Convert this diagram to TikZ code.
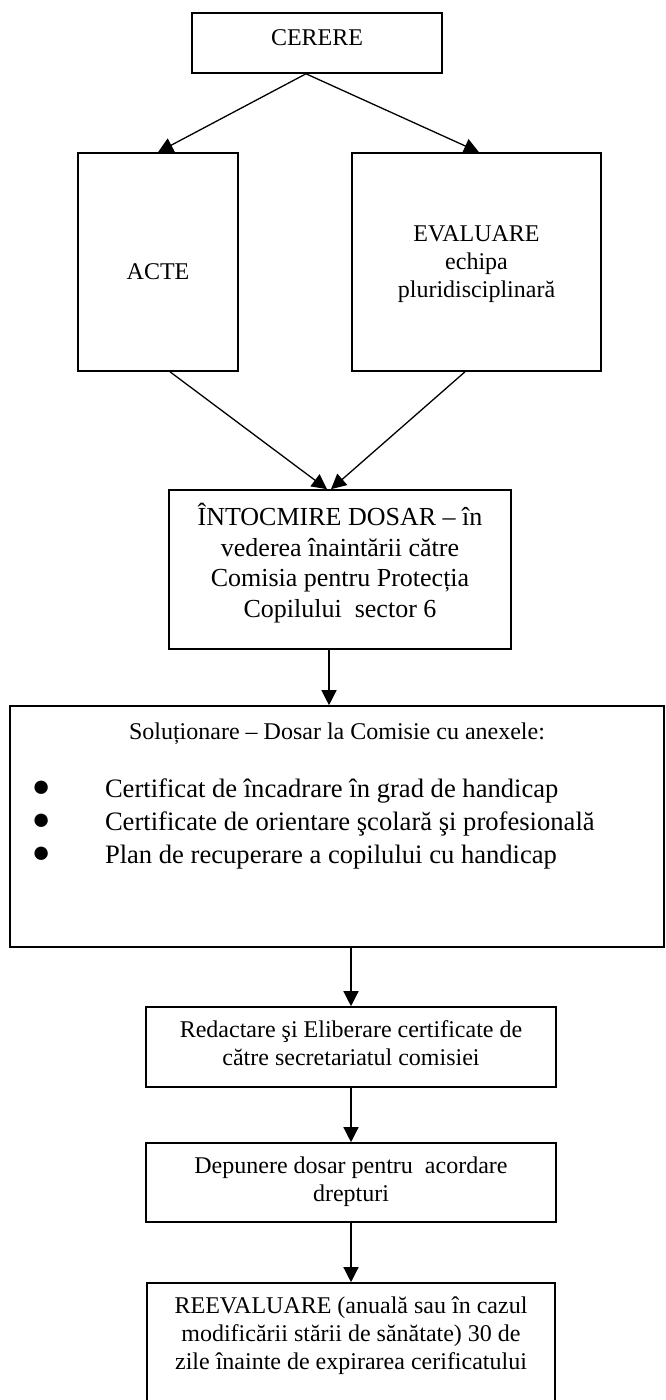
\documentclass[tikz,border=0pt]{standalone}
\usepackage{fontspec}
\setmainfont{Liberation Serif}
\usepackage{tikz}
\usetikzlibrary{arrows.meta}
\newcommand{\boxtxt}[4]{\parbox[c][#2][t]{#1}{\centering\vspace*{\dimexpr#3-0.7\baselineskip\relax}\strut#4}}
\newcommand{\bigbul}{\hspace*{11pt}\makebox[36.5pt][l]{\raisebox{0.4pt}{\fontsize{15.5}{16.5}\selectfont ●}}}

\begin{document}
\begin{tikzpicture}[x=0.5pt, y=-0.5pt,
    box/.style={draw=black, line width=0.8pt, inner sep=0pt, font=\fontsize{12}{14}\selectfont},
    flow/.style={draw=black, line width=0.65pt, -{Triangle[length=7.5pt, width=7.5pt]}}]

    \useasboundingbox (0, 0) rectangle (665, 1400);

    \node[box] (cerere) at (317, 43) {\boxtxt{125pt}{30pt}{16.5pt}{CERERE}};

    \node[box] (acte) at (158, 262) {\boxtxt{80pt}{109pt}{63.5pt}{ACTE}};
    \node[box] (eval) at (476.5, 262) {\boxtxt{124.5pt}{109pt}{44.25pt}{EVALUARE\\ echipa\\ pluridisciplinară}};

    \node[box, font=\fontsize{13}{15.25}\selectfont] (intoc) at (340, 569.5)
      {\boxtxt{171pt}{79.5pt}{17.5pt}{ÎNTOCMIRE DOSAR – în\\ vederea înaintării către\\ Comisia pentru Protecția\\ Copilului \ sector 6}};

    \node[box] (solutie) at (337, 826.5) {\boxtxt{327pt}{120.5pt}{16.5pt}{Soluționare – Dosar la Comisie cu anexele:\par
      \fontsize{13.3}{16.5}\selectfont\raggedright\vspace{12.5pt}%
      \bigbul Certificat de încadrare în grad de handicap\\
      \bigbul Certificate de orientare şcolară şi profesională\\
      \bigbul Plan de recuperare a copilului cu handicap}};

    \node[box] (redactare) at (351, 1047) {\boxtxt{205pt}{40pt}{15pt}{Redactare şi Eliberare certificate de\\ către secretariatul comisiei}};
    \node[box] (depunere) at (351, 1182.5) {\boxtxt{205pt}{39.5pt}{15pt}{Depunere dosar pentru \ acordare\\ drepturi}};
    \node[box] (reeval) at (351, 1351.5) {\boxtxt{204pt}{68.5pt}{15pt}{REEVALUARE (anuală sau în cazul\\ modificării stării de sănătate) 30 de\\ zile înainte de expirarea cerificatului}};

    \draw[flow] ([xshift=-5.5pt]cerere.south) -- (acte.north);
    \draw[flow] ([xshift=-5.5pt]cerere.south) -- ([xshift=1.25pt]eval.north);
    \draw[flow] ([xshift=6pt]acte.south) -- ([xshift=-6.5pt]intoc.north);
    \draw[flow] ([xshift=-5.75pt]eval.south) -- ([xshift=-4.5pt]intoc.north);
    \draw[flow] ([xshift=-5.5pt]intoc.south) -- ([xshift=-5.5pt]intoc.south |- solutie.north);
    \draw[flow] (redactare.north |- solutie.south) -- (redactare.north);
    \draw[flow] (redactare.south) -- (depunere.north);
    \draw[flow] (depunere.south) -- (reeval.north);

\end{tikzpicture}
\end{document}
